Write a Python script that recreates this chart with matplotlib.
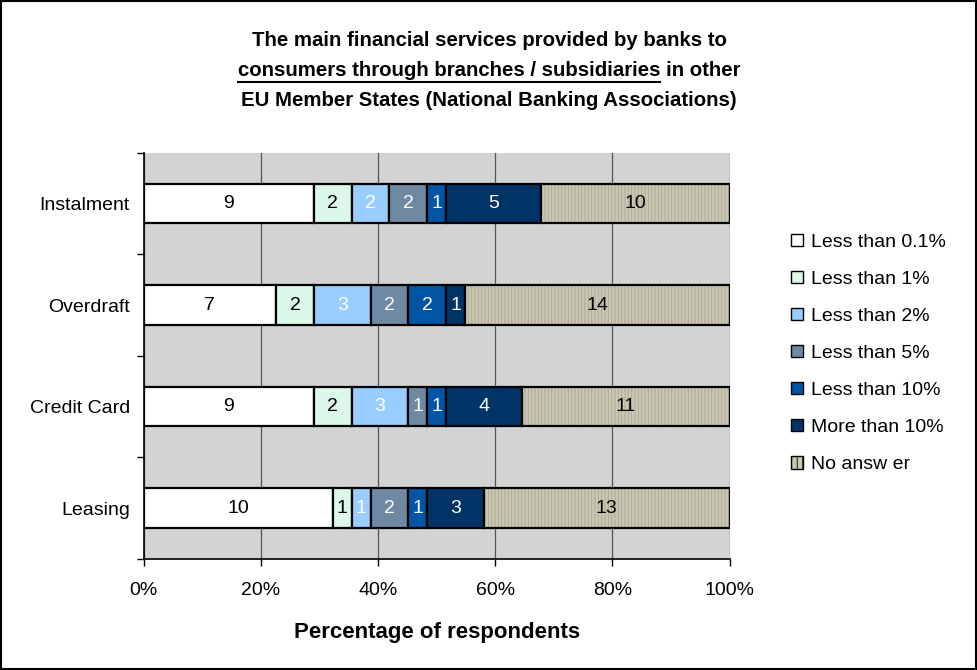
import numpy as np
import matplotlib
matplotlib.use("Agg")
from matplotlib import pyplot as plt
from matplotlib.patches import Rectangle, Patch
from matplotlib.lines import Line2D
from matplotlib.ticker import FixedLocator, PercentFormatter

plt.rcParams["font.family"] = ["Liberation Sans", "DejaVu Sans"]
plt.rcParams["hatch.linewidth"] = 0.6

categories = ["Instalment", "Overdraft", "Credit Card", "Leasing"]
series = ["Less than 0.1%", "Less than 1%", "Less than 2%", "Less than 5%",
          "Less than 10%", "More than 10%", "No answ er"]

less_01 = [9, 7, 9, 10]
less_1 = [2, 2, 2, 1]
less_2 = [2, 3, 3, 1]
less_5 = [2, 2, 1, 2]
less_10 = [1, 2, 1, 1]
more_10 = [5, 1, 4, 3]
no_answer = [10, 14, 11, 13]

colors = ["#FFFFFF", "#DCF8E8", "#99CCFF", "#7089A2", "#0055A5", "#003366", "#CAC8B2"]
text_colors = ["black", "black", "white", "white", "white", "white", "black"]

counts = np.array([less_01, less_1, less_2, less_5, less_10, more_10, no_answer], dtype=float)
totals = counts.sum(axis=0)
shares = counts / totals * 100

FS = 14

fig = plt.figure(figsize=(9.78, 6.70), dpi=100)
ax = fig.add_axes([0.147, 0.166, 0.599, 0.606])
ax.set_facecolor("#D3D3D3")

y = np.arange(len(categories))
left = np.zeros(len(categories))
bar_h = 0.39
for i, name in enumerate(series):
    if name == "No answ er":
        # hatch drawn first in its own colour, border on top
        ax.barh(y, shares[i], left=left, height=bar_h, color=colors[i],
                hatch="|||||", edgecolor="#A8A690", linewidth=0, zorder=3)
        ax.barh(y, shares[i], left=left, height=bar_h, fill=False,
                edgecolor="black", linewidth=1.6, zorder=4)
    else:
        ax.barh(y, shares[i], left=left, height=bar_h, color=colors[i],
                edgecolor="black", linewidth=1.6, zorder=3)
    for j in range(len(categories)):
        ax.text(left[j] + shares[i][j] / 2, y[j], f"{int(counts[i][j])}",
                ha="center", va="center", fontsize=FS, color=text_colors[i], zorder=5)
    left += shares[i]

ax.set_xlim(0, 100)
ax.set_ylim(len(categories) - 0.5, -0.5)
ax.xaxis.set_major_locator(FixedLocator([0, 20, 40, 60, 80, 100]))
ax.xaxis.set_major_formatter(PercentFormatter(decimals=0))
ax.set_yticks(y)
ax.set_yticklabels(categories, fontsize=FS)
ax.yaxis.set_minor_locator(FixedLocator(np.arange(-0.5, len(categories), 1.0)))
ax.tick_params(axis="y", which="major", length=0, pad=10)
ax.tick_params(axis="y", which="minor", length=5, width=1, color="black")
ax.tick_params(axis="x", length=5, width=1, labelsize=FS, pad=12)
ax.grid(axis="x", color="#555555", linewidth=0.9, zorder=1)
ax.set_axisbelow(True)
for s in ["top", "right"]:
    ax.spines[s].set_visible(False)
for s in ["left", "bottom"]:
    ax.spines[s].set_linewidth(1.2)
    ax.spines[s].set_zorder(6)

ax.set_xlabel("Percentage of respondents", fontsize=16, fontweight="bold", labelpad=16)

handles = []
for i, name in enumerate(series):
    if name == "No answ er":
        handles.append(Patch(facecolor=colors[i], edgecolor="black", hatch="|||", linewidth=1))
    else:
        handles.append(Patch(facecolor=colors[i], edgecolor="black", linewidth=1))
fig.legend(handles, series, loc="upper left", bbox_to_anchor=(0.809, 0.651),
           frameon=False, fontsize=FS, handlelength=0.6, handleheight=0.6,
           handletextpad=0.4, labelspacing=1.03, borderaxespad=0, borderpad=0)

# title with underlined middle part
cx = 0.5
fig.text(cx, 1 - 41 / 670, "The main financial services provided by banks to",
         ha="center", va="center", fontsize=14.7, fontweight="bold")
line2 = fig.text(cx, 1 - 71 / 670, "consumers through branches / subsidiaries in other",
                 ha="center", va="center", fontsize=14.7, fontweight="bold")
fig.text(cx, 1 - 101 / 670, "EU Member States (National Banking Associations)",
         ha="center", va="center", fontsize=14.7, fontweight="bold")

fig.canvas.draw()
renderer = fig.canvas.get_renderer()
bb = line2.get_window_extent(renderer)
probe = fig.text(0, 0, "consumers through branches / subsidiaries",
                 fontsize=14.7, fontweight="bold")
pw = probe.get_window_extent(renderer).width
probe.remove()
x0 = bb.x0 / fig.bbox.width
x1 = (bb.x0 + pw) / fig.bbox.width
yl = (bb.y0 - 1) / fig.bbox.height
fig.add_artist(Line2D([x0, x1], [yl, yl], color="black", linewidth=1.5))

fig.add_artist(Rectangle((0.001, 0.001), 0.997, 0.997, transform=fig.transFigure,
                         fill=False, edgecolor="black", linewidth=1.5))

fig.savefig("out.png", dpi=100)
